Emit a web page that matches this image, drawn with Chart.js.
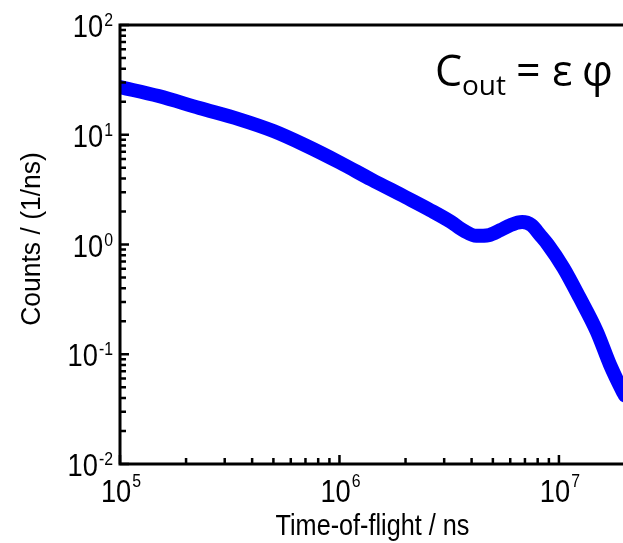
<!DOCTYPE html>
<html>
<head>
<meta charset="utf-8">
<script src="https://cdn.jsdelivr.net/npm/chart.js"></script>
<style>
  html, body { margin: 0; padding: 0; background: #fff; overflow: hidden; }
  #wrap { width: 630px; height: 543px; }
</style>
</head>
<body>
<div id="wrap"><canvas id="tof" width="630" height="543"></canvas></div>
<script>
// time-of-flight (ns) and counts (1/ns)
const tof = [1e5, 1.5e5, 2.3e5, 3.5e5, 5e5, 7e5, 1e6, 1.4e6, 2e6, 2.6e6, 3.2e6, 3.7e6, 4.2e6, 4.8e6,
  5.4e6, 6e6, 6.8e6, 7.5e6, 8.2e6, 8.9e6, 1.05e7, 1.24e7, 1.49e7, 1.71e7, 1.94e7, 2e7];
const counts = [27.2, 22.5, 17.5, 13.8, 10.8, 8.0, 5.6, 3.9, 2.7, 2.05, 1.62, 1.33, 1.2, 1.22,
  1.35, 1.5, 1.6, 1.5, 1.22, 1.0, 0.61, 0.33, 0.16, 0.08, 0.047, 0.042];

// decade exponents used for the tick labels
const xDecades = [5, 6, 7];
const yDecades = [-2, -1, 0, 1, 2];

const LABEL_FONT = 'Liberation Sans, Arial, sans-serif';

function drawScaled(ctx, str, x, y, font, sx, align) {
  ctx.save();
  ctx.translate(x, y);
  ctx.scale(sx, 1);
  ctx.font = font;
  ctx.textAlign = align || 'left';
  ctx.textBaseline = 'alphabetic';
  ctx.fillText(str, 0, 0);
  ctx.restore();
}

function textWidth(ctx, str, font, sx) {
  ctx.font = font;
  return ctx.measureText(str).width * sx;
}

const axisDecor = {
  id: 'axisDecor',
  afterDraw(chart) {
    const { ctx, chartArea: a, scales: { x, y } } = chart;
    ctx.save();
    ctx.strokeStyle = '#000';
    ctx.fillStyle = '#000';
    ctx.lineWidth = 3;
    ctx.strokeRect(a.left, a.top, a.right - a.left, a.bottom - a.top);

    // inward ticks, major + minor
    ctx.lineWidth = 2.5;
    ctx.beginPath();
    yDecades.forEach(e => {
      const py = y.getPixelForValue(Math.pow(10, e));
      ctx.moveTo(a.left, py); ctx.lineTo(a.left + 9, py);
      if (e < yDecades[yDecades.length - 1]) {
        for (let m = 2; m <= 9; m++) {
          const pm = y.getPixelForValue(m * Math.pow(10, e));
          ctx.moveTo(a.left, pm); ctx.lineTo(a.left + 6, pm);
        }
      }
    });
    xDecades.forEach(e => {
      const px = x.getPixelForValue(Math.pow(10, e));
      ctx.moveTo(px, a.bottom); ctx.lineTo(px, a.bottom - 9);
      for (let m = 2; m <= 9; m++) {
        const v = m * Math.pow(10, e);
        if (v >= x.max) break;
        const pm = x.getPixelForValue(v);
        ctx.moveTo(pm, a.bottom); ctx.lineTo(pm, a.bottom - 6);
      }
    });
    ctx.stroke();

    // tick labels 10^n
    const big = '31px ' + LABEL_FONT, small = '18px ' + LABEL_FONT, sx = 0.88;
    xDecades.forEach(e => {
      const px = x.getPixelForValue(Math.pow(10, e));
      const w10 = textWidth(ctx, '10', big, sx);
      const we = textWidth(ctx, String(e), small, sx);
      const start = px - (w10 + 1 + we) / 2 + 1;
      drawScaled(ctx, '10', start, 502, big, sx);
      drawScaled(ctx, String(e), start + w10 + 1, 487, small, sx);
    });
    yDecades.forEach(e => {
      const py = y.getPixelForValue(Math.pow(10, e));
      const exp = e < 0 ? '-' + Math.abs(e) : String(e);
      const we = textWidth(ctx, exp, small, sx);
      const expStart = a.left - 7 - we;
      drawScaled(ctx, '10', expStart - 1, py + 12, big, sx, 'right');
      drawScaled(ctx, exp, expStart, py + 1, small, sx);
    });

    // axis titles
    drawScaled(ctx, 'Time-of-flight / ns', (a.left + a.right) / 2, 535, '29px ' + LABEL_FONT, 0.87, 'center');
    ctx.save();
    ctx.translate(40, 239);
    ctx.rotate(-Math.PI / 2);
    drawScaled(ctx, 'Counts / (1/ns)', 0, 0, '27px ' + LABEL_FONT, 0.98, 'center');
    ctx.restore();

    // annotation
    const ann = '"Open Sans", "Noto Sans", sans-serif';
    ctx.font = '43px ' + ann;
    ctx.fillText('C', 435, 86);
    ctx.font = '28px ' + ann;
    ctx.fillText('out', 462, 95);
    ctx.font = '43px ' + ann;
    ctx.fillText('=', 516, 86);
    ctx.fillText('ε', 552, 86);
    ctx.fillText('φ', 582, 86);
    ctx.restore();
  }
};

new Chart(document.getElementById('tof'), {
  type: 'line',
  data: {
    datasets: [{
      data: tof.map((t, i) => ({ x: t, y: counts[i] })),
      borderColor: '#0000ff',
      borderWidth: 14,
      borderJoinStyle: 'round',
      borderCapStyle: 'round',
      pointRadius: 0,
      cubicInterpolationMode: 'monotone',
      clip: 0
    }]
  },
  options: {
    responsive: false,
    animation: false,
    devicePixelRatio: 1,
    layout: { padding: { left: 120, top: 25, right: 5, bottom: 79 } },
    plugins: { legend: { display: false }, tooltip: { enabled: false } },
    scales: {
      x: { type: 'logarithmic', min: 1e5, max: 2e7, display: false },
      y: { type: 'logarithmic', min: 1e-2, max: 1e2, display: false }
    }
  },
  plugins: [axisDecor]
});
</script>
</body>
</html>
